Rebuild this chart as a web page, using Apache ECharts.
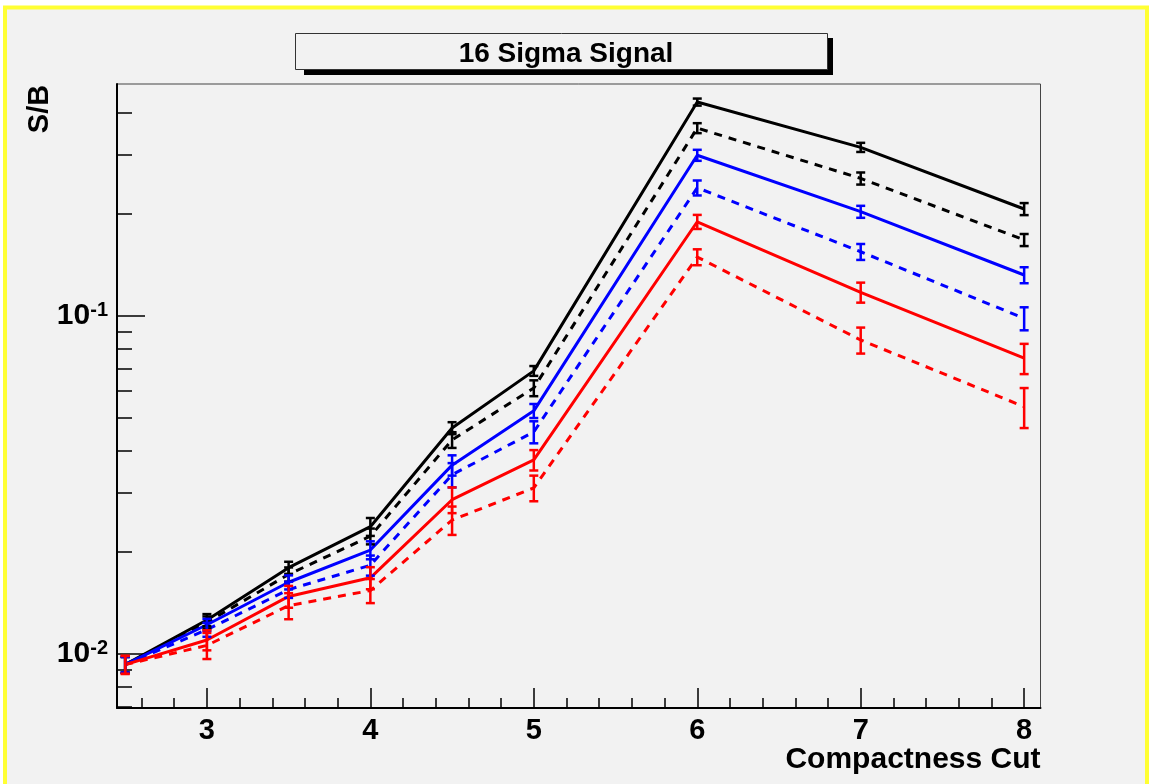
<!DOCTYPE html>
<html>
<head>
<meta charset="utf-8">
<title>16 Sigma Signal</title>
<script src="https://cdn.jsdelivr.net/npm/echarts@6/dist/echarts.min.js"></script>
<style>
  html, body { margin: 0; padding: 0; background: #ffffff; }
  #chart { width: 1151px; height: 784px; }
</style>
</head>
<body>
<div id="chart"></div>
<script>
// compactness cut values (x)
const cuts = [2.5, 3, 3.5, 4, 4.5, 5, 6, 7, 8];

// S/B values
const blackSolid = [0.0093, 0.0126, 0.0180, 0.0238, 0.0466, 0.0688, 0.4295, 0.3155, 0.2073];
const blackDash  = [0.0093, 0.0124, 0.0172, 0.0223, 0.0430, 0.0612, 0.3597, 0.2553, 0.1679];
const blueSolid  = [0.0093, 0.0122, 0.0163, 0.0203, 0.0362, 0.0524, 0.2990, 0.2035, 0.1322];
const blueDash   = [0.0093, 0.0118, 0.0155, 0.0183, 0.0339, 0.0454, 0.2395, 0.1549, 0.0984];
const redSolid   = [0.0093, 0.0110, 0.0148, 0.0168, 0.0286, 0.0375, 0.1900, 0.1175, 0.0750];
const redDash    = [0.0093, 0.0106, 0.0139, 0.0154, 0.0249, 0.0310, 0.1494, 0.0849, 0.0539];

// error bar half lengths
const blackSolidErr = [0.0005, 0.00052, 0.00074, 0.00145, 0.0019, 0.0023, 0.0103, 0.0098, 0.0085];
const blackDashErr  = [0.0005, 0.00051, 0.00083, 0.0012, 0.0023, 0.0033, 0.0122, 0.0105, 0.0069];
const blueSolidErr  = [0.0005, 0.0005, 0.00078, 0.00124, 0.0025, 0.0025, 0.0112, 0.0083, 0.0072];
const blueDashErr   = [0.0005, 0.00056, 0.00085, 0.00125, 0.0028, 0.0034, 0.0122, 0.0084, 0.0077];
const redSolidErr   = [0.00057, 0.00075, 0.0011, 0.00126, 0.0025, 0.0026, 0.0091, 0.0080, 0.0077];
const redDashErr    = [0.00057, 0.00094, 0.00123, 0.00126, 0.0024, 0.0027, 0.0081, 0.0075, 0.0073];

// axis ticks
const xMajorTicks = [3, 4, 5, 6, 7, 8];
const xMinorTicks = [2.6, 2.8, 3.2, 3.4, 3.6, 3.8, 4.2, 4.4, 4.6, 4.8, 5.2, 5.4, 5.6, 5.8,
                     6.2, 6.4, 6.6, 6.8, 7.2, 7.4, 7.6, 7.8];
const yMajorTicks = [0.01, 0.1];
const yMinorTicks = [0.007, 0.008, 0.009, 0.02, 0.03, 0.04, 0.05, 0.06, 0.07, 0.08, 0.09, 0.2, 0.3, 0.4];

const FONT = '"Liberation Sans", Arial, Helvetica, sans-serif';

const lines = [
  { name: 'black solid', vals: blackSolid, errs: blackSolidErr, color: '#000000', dash: 'solid' },
  { name: 'black dashed', vals: blackDash, errs: blackDashErr, color: '#000000', dash: [8, 7] },
  { name: 'blue solid', vals: blueSolid, errs: blueSolidErr, color: '#0000ff', dash: 'solid' },
  { name: 'blue dashed', vals: blueDash, errs: blueDashErr, color: '#0000ff', dash: [8, 7] },
  { name: 'red solid', vals: redSolid, errs: redSolidErr, color: '#ff0000', dash: 'solid' },
  { name: 'red dashed', vals: redDash, errs: redDashErr, color: '#ff0000', dash: [8, 7] }
];

function errorBars(color) {
  return function (params, api) {
    const x = api.value(0), y = api.value(1), e = api.value(2);
    const hi = api.coord([x, y + e]);
    const lo = api.coord([x, y - e]);
    const cw = 4.5;
    const st = { stroke: color, lineWidth: 2.5 };
    return {
      type: 'group',
      children: [
        { type: 'line', shape: { x1: hi[0], y1: hi[1], x2: lo[0], y2: lo[1] }, style: st },
        { type: 'line', shape: { x1: hi[0] - cw, y1: hi[1], x2: hi[0] + cw, y2: hi[1] }, style: st },
        { type: 'line', shape: { x1: lo[0] - cw, y1: lo[1], x2: lo[0] + cw, y2: lo[1] }, style: st }
      ]
    };
  };
}

const series = [];
lines.forEach(function (l) {
  series.push({
    name: l.name,
    type: 'line',
    data: cuts.map((c, i) => [c, l.vals[i]]),
    showSymbol: false,
    lineStyle: { color: l.color, width: 3, type: l.dash },
    z: 3
  });
  series.push({
    name: l.name + ' err',
    type: 'custom',
    data: cuts.map((c, i) => [c, l.vals[i], l.errs[i]]),
    encode: { x: 0, y: 1 },
    renderItem: errorBars(l.color),
    z: 4
  });
});

const chart = echarts.init(document.getElementById('chart'));
chart.setOption({
  animation: false,
  backgroundColor: '#ffffff',
  textStyle: { fontFamily: FONT },
  title: {
    text: '16 Sigma Signal',
    left: 561,
    top: 35,
    textAlign: 'center',
    textStyle: { fontFamily: FONT, fontWeight: 'bold', fontSize: 28, color: '#000' },
    z: 10
  },
  graphic: [
    { type: 'rect', z: -10, shape: { x: 5, y: 7.5, width: 1142, height: 800 },
      style: { fill: '#f2f2f2', stroke: '#ffff33', lineWidth: 4 } },
    { type: 'rect', z: 1, shape: { x: 304, y: 38, width: 529, height: 37 },
      style: { fill: '#000000' } },
    { type: 'rect', z: 2, shape: { x: 295.5, y: 33.5, width: 532, height: 36 },
      style: { fill: '#f2f2f2', stroke: '#333333', lineWidth: 1 } },
    { type: 'text', z: 5, x: 40, y: 109, rotation: Math.PI / 2,
      style: { text: 'S/B', fontFamily: FONT, fontWeight: 'bold', fontSize: 29,
               fill: '#000', align: 'center', verticalAlign: 'middle' } }
  ],
  grid: {
    left: 117, top: 84, right: 110.5, bottom: 76,
    show: true, borderColor: '#444444', borderWidth: 1, backgroundColor: 'transparent'
  },
  xAxis: [
    {
      type: 'value', min: 2.45, max: 8.1,
      name: 'Compactness Cut', nameLocation: 'end', nameGap: 0,
      nameTextStyle: { fontFamily: FONT, fontWeight: 'bold', fontSize: 30, color: '#000',
                       align: 'right', verticalAlign: 'top', padding: [37, 0, 0, 0] },
      axisLine: { show: true, onZero: false, lineStyle: { color: '#000', width: 2 } },
      axisTick: { show: true, inside: true, length: 20, customValues: xMajorTicks,
                  lineStyle: { color: '#000', width: 1.5 } },
      axisLabel: { customValues: xMajorTicks, margin: 8, fontFamily: FONT, fontWeight: 'bold',
                   fontSize: 29, color: '#000' },
      splitLine: { show: false }
    },
    {
      type: 'value', min: 2.45, max: 8.1, position: 'bottom',
      axisLine: { show: false },
      axisTick: { show: true, inside: true, length: 10, customValues: xMinorTicks,
                  lineStyle: { color: '#000', width: 1.5 } },
      axisLabel: { show: false },
      splitLine: { show: false }
    }
  ],
  yAxis: [
    {
      type: 'log', logBase: 10, min: 0.00692, max: 0.4857,
      axisLine: { show: true, onZero: false, lineStyle: { color: '#000', width: 2 } },
      axisTick: { show: true, inside: true, length: 28, customValues: yMajorTicks,
                  lineStyle: { color: '#000', width: 1.5 } },
      axisLabel: {
        customValues: yMajorTicks, margin: 9,
        formatter: function (v) {
          return '{b|10}{s|' + Math.round(Math.log10(v)) + '}';
        },
        rich: {
          b: { fontFamily: FONT, fontWeight: 'bold', fontSize: 30, color: '#000', lineHeight: 30 },
          s: { fontFamily: FONT, fontWeight: 'bold', fontSize: 20, color: '#000', verticalAlign: 'top', lineHeight: 18 }
        }
      },
      splitLine: { show: false }
    },
    {
      type: 'log', logBase: 10, min: 0.00692, max: 0.4857, position: 'left',
      axisLine: { show: false },
      axisTick: { show: true, inside: true, length: 15, customValues: yMinorTicks,
                  lineStyle: { color: '#000', width: 1.5 } },
      axisLabel: { show: false },
      splitLine: { show: false }
    }
  ],
  series: series
});
</script>
</body>
</html>
